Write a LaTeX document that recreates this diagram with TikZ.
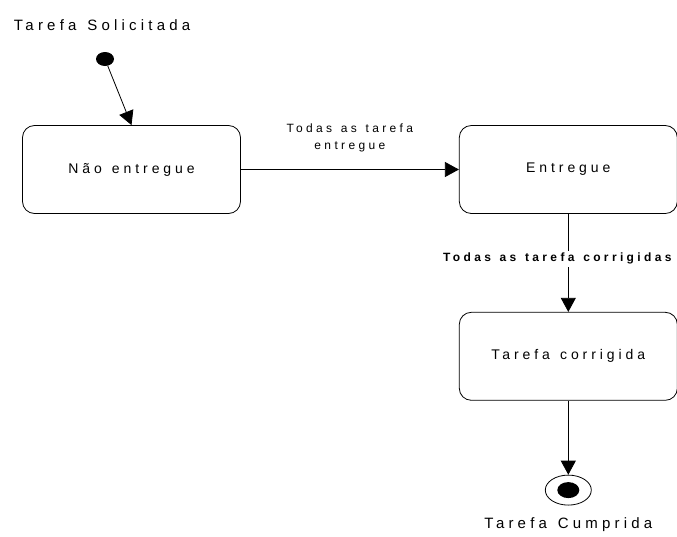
\documentclass[tikz,border=0pt]{standalone}
\usepackage{fontspec}
\setmainfont{Liberation Sans}
\newfontfamily\spaced[LetterSpace=28,WordSpace=1.3]{Liberation Sans}
\usetikzlibrary{positioning}
\usetikzlibrary{arrows.meta}
\usetikzlibrary{shapes.geometric}
\tikzset{
  state/.style={rectangle,rounded corners=12pt,draw=black,line width=0.8pt,
                minimum width=218pt,minimum height=88pt,align=center,
                font=\spaced\fontsize{14}{16}\selectfont},
  trans/.style={-{Triangle[length=14pt,width=15pt]},line width=0.8pt,draw=black},
  translabel/.style={align=center,font=\spaced\fontsize{12}{17}\selectfont},
  guardlabel/.style={fill=white,inner sep=2pt,font=\spaced\bfseries\fontsize{12}{14}\selectfont},
  initial/.style={ellipse,fill=black,minimum width=18pt,minimum height=14pt,inner sep=0pt},
  final/.style={ellipse,draw=black,line width=0.8pt,minimum width=46pt,minimum height=30pt,inner sep=0pt},
  finalcore/.style={ellipse,fill=black,minimum width=22pt,minimum height=16pt,inner sep=0pt},
  pseudolabel/.style={font=\spaced\fontsize{15}{17}\selectfont},
}
\begin{document}
\begin{tikzpicture}[x=1pt,y=-1pt]
    \useasboundingbox (0,0) rectangle (677,536);

    % States
    \node[state] (nao) at (131.5,169.5)   {Não entregue};
    \node[state] (ent) [right=218pt of nao] {Entregue};
    \node[state] (cor) [below=98pt of ent]  {Tarefa corrigida};

    % Initial and final pseudostates
    \node[initial] (ini) at (105,59) {};
    \node[pseudolabel] (inilbl) at (102,25) {Tarefa Solicitada};
    \node[final] (fin) [below=74pt of cor] {};
    \node[finalcore] (fincore) at (fin) {};
    \node[pseudolabel] (finlbl) [below=9pt of fin] {Tarefa Cumprida};

    % Transitions
    \draw[trans] (ini) -- (nao.north);
    \draw[trans]
        (nao) --
        node[translabel,above=14pt]
            {Todas as tarefa\\entregue}
        (ent);
    \draw[trans]
        (ent) --
        node[guardlabel,xshift=-11pt,yshift=4pt]
            {Todas as tarefa corrigidas}
        (cor);
    \draw[trans] (cor) -- (fin);
\end{tikzpicture}
\end{document}
